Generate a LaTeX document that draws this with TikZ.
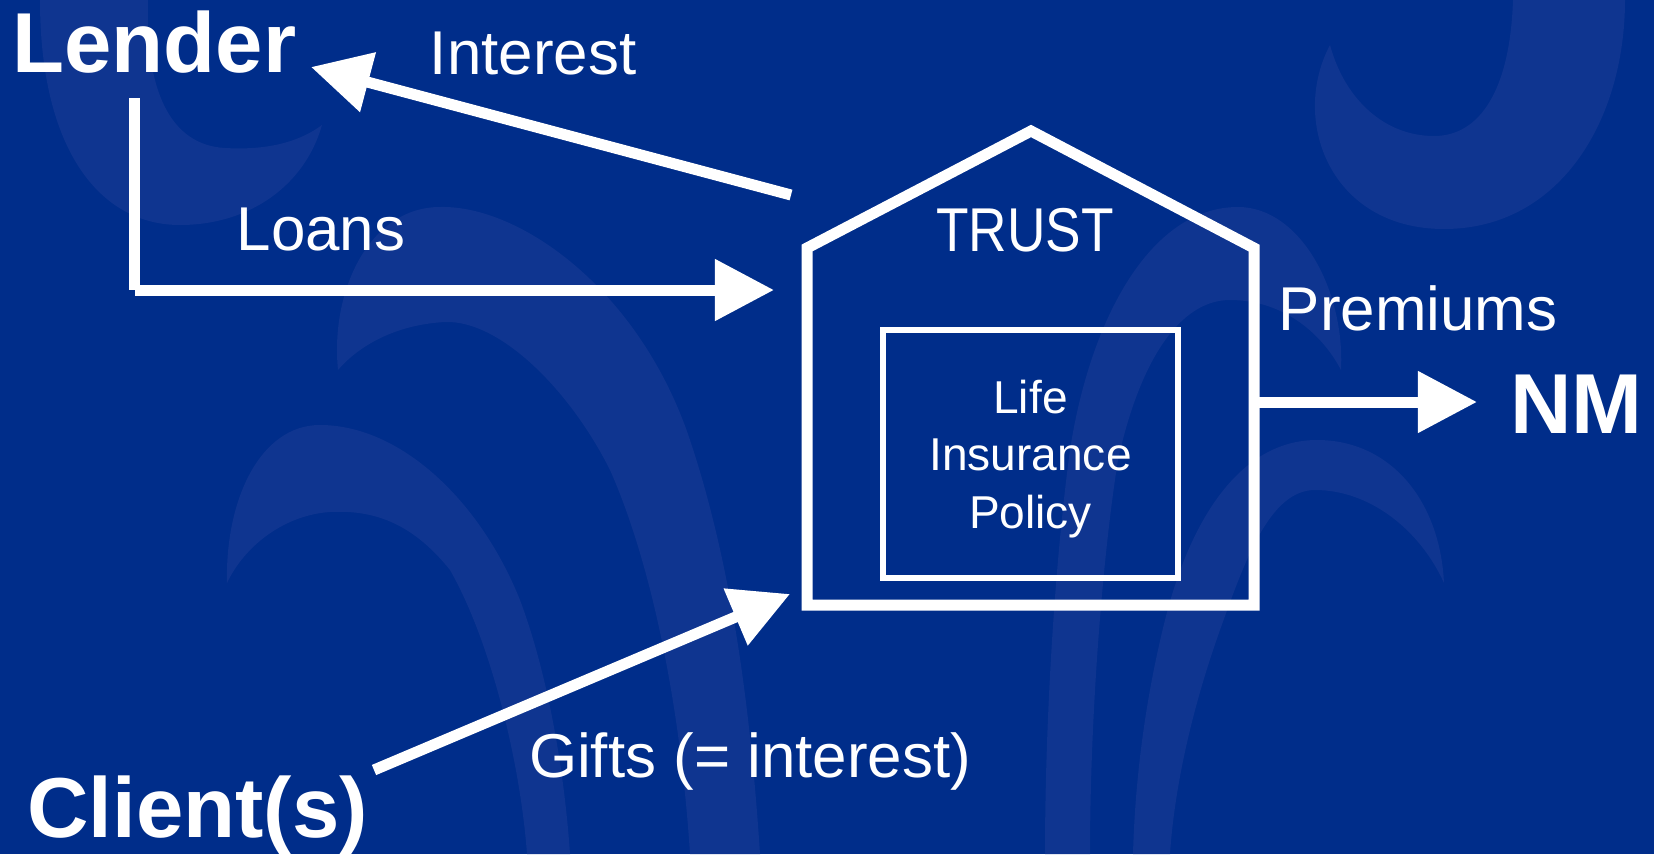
\documentclass[tikz,border=0pt]{standalone}
\usepackage{fontspec}
\usepackage{graphicx}
\setmainfont{Liberation Sans}
\usetikzlibrary{arrows.meta}

\definecolor{deepblue}{RGB}{0,45,138}
\definecolor{swirlblue}{RGB}{15,53,144}

\tikzset{
  swirl/.style={fill=swirlblue, draw=none},
  flow/.style={draw=white, line width=1.1mm},
  flowarrow/.style={flow, -{Triangle[length=5.9mm,width=5.9mm]}},
  bigname/.style={text=white, inner sep=0pt, anchor=base,
    font=\fontsize{24.2pt}{29pt}\selectfont\bfseries},
  flowlabel/.style={text=white, inner sep=0pt, anchor=base,
    font=\fontsize{17.6pt}{21pt}\selectfont},
  smalllabel/.style={text=white, inner sep=0pt, anchor=base,
    font=\fontsize{13.1pt}{16.4pt}\selectfont},
  housewall/.style={draw=white, line width=1.1mm, line join=miter},
  policybox/.style={draw=white, line width=0.6mm, inner sep=0pt,
    minimum width=2.95cm, minimum height=2.48cm},
}

\begin{document}
\begin{tikzpicture}[x=0.01cm, y=-0.01cm]
  % canvas
  \useasboundingbox (0,0) rectangle (1654,854);
  \fill[deepblue] (0,0) rectangle (1654,854);

  % decorative swirls in the backdrop
  \fill[swirl] (40,0) .. controls (40,150) and (100,225) .. (180,225)
    .. controls (250,225) and (305,185) .. (322,125)
    .. controls (295,145) and (260,150) .. (225,148)
    .. controls (170,145) and (145,90) .. (148,0) -- cycle;
  \fill[swirl] (1330,45) .. controls (1290,120) and (1330,229) .. (1444,229)
    .. controls (1560,229) and (1625,120) .. (1625,0) -- (1513,0)
    .. controls (1510,90) and (1480,136) .. (1434,136)
    .. controls (1385,136) and (1345,100) .. (1330,45) -- cycle;
  \fill[swirl] (338,370) .. controls (330,290) and (370,207) .. (440,207)
    .. controls (520,205) and (640,290) .. (690,440)
    .. controls (730,560) and (750,700) .. (760,854) -- (690,854)
    .. controls (680,700) and (650,560) .. (610,470)
    .. controls (570,390) and (500,320) .. (445,322)
    .. controls (390,325) and (355,350) .. (338,370) -- cycle;
  \fill[swirl] (227,583) .. controls (225,500) and (260,425) .. (320,425)
    .. controls (400,425) and (480,500) .. (520,600)
    .. controls (550,680) and (565,780) .. (570,854) -- (527,854)
    .. controls (520,760) and (490,640) .. (450,570)
    .. controls (410,520) and (370,510) .. (330,512)
    .. controls (285,515) and (245,545) .. (227,583) -- cycle;
  \fill[swirl] (1341,370) .. controls (1345,290) and (1300,207) .. (1238,207)
    .. controls (1150,207) and (1090,320) .. (1070,450)
    .. controls (1055,560) and (1045,720) .. (1045,854) -- (1090,854)
    .. controls (1090,720) and (1102,560) .. (1118,460)
    .. controls (1140,360) and (1180,300) .. (1230,300)
    .. controls (1280,300) and (1320,330) .. (1341,370) -- cycle;
  \fill[swirl] (1444,583) .. controls (1440,500) and (1390,440) .. (1317,440)
    .. controls (1240,440) and (1190,520) .. (1165,620)
    .. controls (1145,700) and (1135,780) .. (1133,854) -- (1170,854)
    .. controls (1175,780) and (1195,700) .. (1220,630)
    .. controls (1245,560) and (1270,490) .. (1315,490)
    .. controls (1370,490) and (1420,530) .. (1444,583) -- cycle;

  % the trust, drawn as a house
  \coordinate (hbl) at (807,605);
  \coordinate (hel) at (807,248);
  \coordinate (hroof) at (1031,131);
  \coordinate (her) at (1254,248);
  \coordinate (hbr) at (1254,605);
  \draw[housewall] (hbl) -- (hel) -- (hroof) -- (her) -- (hbr) -- cycle;
  \node[flowlabel] (trust) at (1025,251) {\scalebox{0.86}[1]{TRUST}};

  % the policy held by the trust
  \node[policybox] (policy) at (1030.5,454) {};
  \node[smalllabel] (policytext) at (1030.5,413)
    {\begin{tabular}[t]{@{}c@{}}Life\\Insurance\\Policy\end{tabular}};

  % parties
  \node[bigname] (lender) at (154.5,72) {Lender};
  \node[bigname] (nm) at (1576.5,433) {NM};
  \node[bigname] (client) at (197.5,837) {Client(s)};

  % flow labels
  \node[flowlabel] (interestlbl) at (533,74) {Interest};
  \node[flowlabel] (loanslbl) at (321,250) {Loans};
  \node[flowlabel] (premlbl) at (1418,330) {Premiums};
  \node[flowlabel] (giftslbl) at (750,777) {Gifts (= interest)};

  % connector end points
  \coordinate (intfrom) at (791,195);
  \coordinate (intto) at (311,67);
  \coordinate (loantop) at (134.5,98);
  \coordinate (loancorner) at (134.5,290);
  \coordinate (loanto) at (774,290);
  \coordinate (giftfrom) at (374,770);
  \coordinate (giftto) at (790,594);
  \coordinate (premfrom) at (1254,402);
  \coordinate (premto) at (1477,402);

  % money flows
  \draw[flowarrow] (intfrom) -- (intto);
  \draw[flow] (loantop) -- (loancorner);
  \draw[flowarrow] (loancorner) -- (loanto);
  \draw[flowarrow] (giftfrom) -- (giftto);
  \draw[flowarrow] (premfrom) -- (premto);
\end{tikzpicture}
\end{document}
